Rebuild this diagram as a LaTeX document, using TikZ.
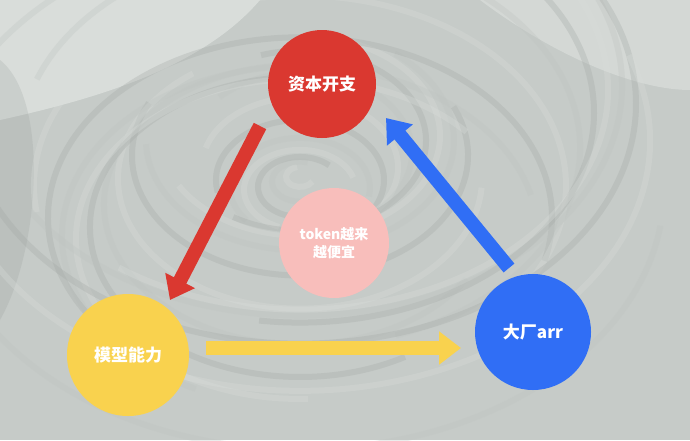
\documentclass[tikz,border=0pt]{standalone}
\usepackage{fontspec}
\newfontfamily\cjk{Noto Sans CJK SC}
\usetikzlibrary{arrows.meta}
\definecolor{marble gray}{RGB}{198,203,200}
\definecolor{marble light}{RGB}{226,230,227}
\definecolor{marble dark}{RGB}{146,151,149}
\definecolor{capex red}{RGB}{218,56,48}
\definecolor{token pink}{RGB}{248,190,187}
\definecolor{model yellow}{RGB}{249,210,78}
\definecolor{arr blue}{RGB}{48,110,245}

\begin{document}
\begin{tikzpicture}[x=1pt,y=-1pt,
		bubble/.style={circle,inner sep=0pt,text=white,align=center,
			font=\cjk\bfseries\fontsize{17}{20}\selectfont},
		fat arrow/.style={line width=14pt,-{Triangle[width=32pt,length=22pt]}}]
			% marble background
			\begin{scope}
				\useasboundingbox (0,0) rectangle (690,440);
				\fill[marble gray] (0,0) rectangle (690,440);
				\fill[marble light, opacity=0.7] (0,0) -- (260,0) .. controls (200,70) and (90,100) .. (0,120) -- cycle;
				\fill[marble dark, opacity=0.2] (0,60) .. controls (50,100) and (40,250) .. (0,320) -- cycle;
				\fill[marble light, opacity=0.5] (690,0) -- (480,0) .. controls (560,60) and (640,90) .. (690,90) -- cycle;
				\clip (0,0) rectangle (690,440);
				\foreach \i in {1,...,26} {
					\pgfmathsetmacro{\shade}{mod(\i,3)==0 ? 80 : (mod(\i,3)==1 ? 10 : 45)}
					\draw[marble dark!\shade!marble light, opacity=0.3, line width=6pt]
						(300,175) ++(28*\i:14*\i) arc[start angle=28*\i, delta angle=230, x radius=14*\i, y radius=10*\i];
				}
			\end{scope}
			% circles
			\node[bubble, fill=capex red, minimum size=108pt] (capex) at (322,84) {资本开支};
			\node[bubble, fill=token pink, minimum size=110pt, font=\cjk\bfseries\fontsize{14}{18}\selectfont] (token) at (334,243) {token越来\\越便宜};
			\node[bubble, fill=model yellow, minimum size=122pt] (model) at (128,355) {模型能力};
			\node[bubble, fill=arr blue, minimum size=116pt] (arr) at (533,332) {大厂arr};
			% arrow ends
			\coordinate (capex out) at (260,126);
			\coordinate (model in) at (170,300);
			\coordinate (model out) at (206,348);
			\coordinate (arr in) at (461,348);
			\coordinate (arr out) at (509,268);
			\coordinate (capex in) at (386,118);
			% arrows
			\draw[fat arrow, capex red] (capex out) -- (model in);
			\draw[fat arrow, model yellow] (model out) -- (arr in);
			\draw[fat arrow, arr blue] (arr out) -- (capex in);
		\end{tikzpicture}
\end{document}
